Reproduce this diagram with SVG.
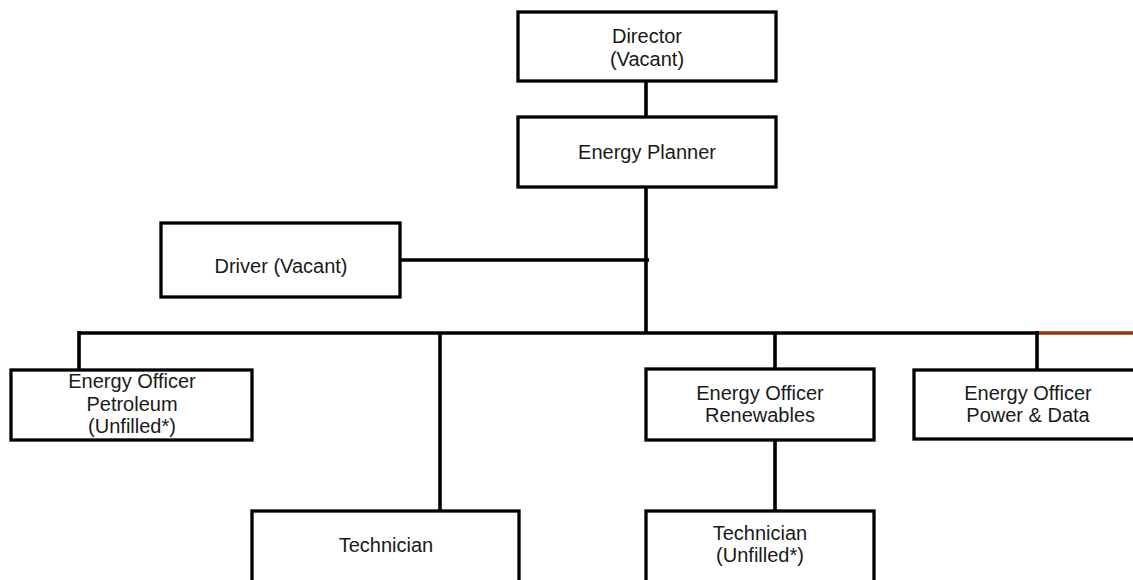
<svg xmlns="http://www.w3.org/2000/svg" width="1133" height="580" viewBox="0 0 1133 580">
<style>
.box{fill:#fff;stroke:#000;stroke-width:3.3}
.t{font-family:"Liberation Sans",Arial,sans-serif;font-size:20px;fill:#1a1a1a;text-anchor:middle}
.c{stroke:#000;stroke-width:3.6;fill:none}
</style>
<rect width="1133" height="580" fill="#fff"/>
<g id="connectors">
<line class="c" x1="646" y1="81" x2="646" y2="117"/>
<line class="c" x1="646" y1="187" x2="646" y2="334"/>
<line class="c" x1="400" y1="260" x2="649" y2="260"/>
<line class="c" x1="79" y1="333" x2="1038" y2="333"/>
<line x1="1038" y1="333" x2="1133" y2="333" stroke="#993300" stroke-width="3.6"/>
<line class="c" x1="79" y1="331" x2="79" y2="370"/>
<line class="c" x1="440" y1="333" x2="440" y2="511"/>
<line class="c" x1="775" y1="333" x2="775" y2="369"/>
<line class="c" x1="1037" y1="331" x2="1037" y2="370"/>
<line class="c" x1="775" y1="440" x2="775" y2="511"/>
</g>
<g id="director">
<rect class="box" x="518" y="12" width="258" height="69"/>
<text class="t" x="647" y="43">Director</text>
<text class="t" x="647" y="66">(Vacant)</text>
</g>
<g id="planner">
<rect class="box" x="518" y="117" width="258" height="70"/>
<text class="t" x="647" y="159">Energy Planner</text>
</g>
<g id="driver">
<rect class="box" x="161" y="223" width="239" height="74"/>
<text class="t" x="281" y="273">Driver (Vacant)</text>
</g>
<g id="petroleum">
<rect class="box" x="11" y="370" width="241" height="70"/>
<text class="t" x="132" y="388">Energy Officer</text>
<text class="t" x="132" y="410.5">Petroleum</text>
<text class="t" x="132" y="433">(Unfilled*)</text>
</g>
<g id="renewables">
<rect class="box" x="646" y="369" width="228" height="71"/>
<text class="t" x="760" y="400">Energy Officer</text>
<text class="t" x="760" y="422">Renewables</text>
</g>
<g id="powerdata">
<rect class="box" x="914" y="370" width="228" height="69"/>
<text class="t" x="1028" y="400">Energy Officer</text>
<text class="t" x="1028" y="422">Power &amp; Data</text>
</g>
<g id="technician">
<rect class="box" x="252" y="511" width="267" height="80"/>
<text class="t" x="386" y="552">Technician</text>
</g>
<g id="technician2">
<rect class="box" x="646" y="511" width="228" height="80"/>
<text class="t" x="760" y="540">Technician</text>
<text class="t" x="760" y="562">(Unfilled*)</text>
</g>
</svg>
